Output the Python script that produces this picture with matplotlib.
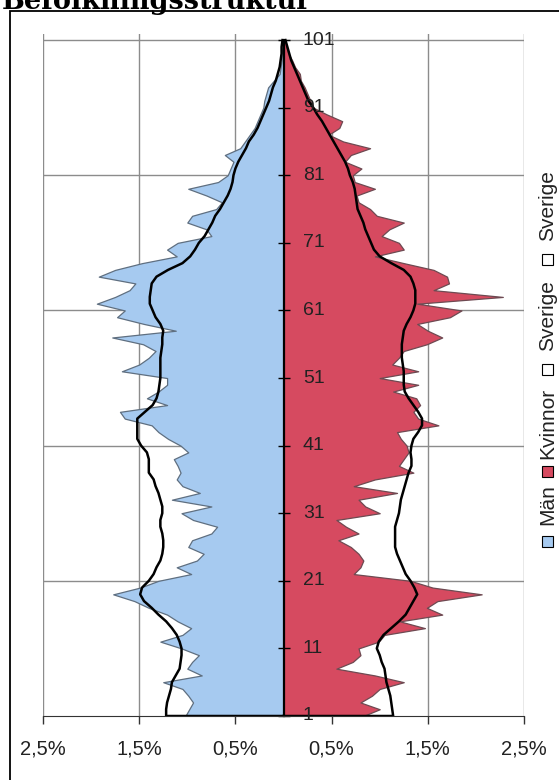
import numpy as np
import matplotlib
matplotlib.use("Agg")
import matplotlib.pyplot as plt
from matplotlib.patches import Rectangle

plt.rcParams['font.family'] = ['Liberation Sans', 'DejaVu Sans']

# Data: share of population (%) per age, ages 1..101
ages = list(range(1, 102))

man = [1.02, 0.98, 0.94, 0.99, 1.05, 1.25, 0.85, 1.00, 0.95, 0.88,
       1.06, 1.28, 1.05, 0.96, 1.10, 1.21, 1.40, 1.55, 1.77, 1.49,
       1.30, 0.96, 1.11, 0.90, 0.83, 0.99, 0.95, 0.75, 0.69, 0.94,
       1.06, 0.75, 1.16, 0.87, 1.05, 1.11, 1.07, 1.10, 1.14, 0.99,
       1.07, 1.20, 1.30, 1.37, 1.65, 1.70, 1.21, 1.42, 1.30, 1.21,
       1.21, 1.68, 1.50, 1.40, 1.33, 1.46, 1.78, 1.12, 1.45, 1.73,
       1.65, 1.94, 1.75, 1.60, 1.54, 1.92, 1.75, 1.47, 1.11, 1.21,
       1.10, 0.75, 0.80, 1.00, 0.95, 0.70, 0.64, 0.80, 0.99, 0.68,
       0.58, 0.55, 0.52, 0.61, 0.45, 0.40, 0.35, 0.30, 0.27, 0.24,
       0.21, 0.20, 0.18, 0.16, 0.10, 0.04, 0.03, 0.02, 0.02, 0.01,
       0.01]

kvinnor = [0.83, 1.00, 0.80, 0.92, 1.00, 1.25, 0.95, 0.55, 0.72, 0.80,
           0.78, 0.99, 1.05, 1.47, 1.21, 1.65, 1.49, 1.60, 2.06, 1.55,
           1.32, 0.73, 0.80, 0.83, 0.78, 0.70, 0.57, 0.78, 0.65, 0.55,
           1.00, 0.85, 0.78, 1.18, 0.73, 0.95, 1.35, 1.20, 1.25, 1.30,
           1.28, 1.22, 1.18, 1.61, 1.40, 1.35, 1.42, 1.38, 1.14, 1.40,
           1.00, 1.40, 1.13, 1.20, 1.25, 1.49, 1.65, 1.50, 1.39, 1.73,
           1.85, 1.39, 2.28, 1.56, 1.72, 1.70, 1.56, 1.25, 0.95, 1.25,
           1.20, 1.02, 1.10, 1.25, 0.97, 0.90, 0.78, 0.76, 0.95, 0.74,
           0.72, 0.81, 0.64, 0.70, 0.90, 0.62, 0.47, 0.58, 0.61, 0.45,
           0.31, 0.28, 0.25, 0.22, 0.18, 0.17, 0.12, 0.09, 0.05, 0.03,
           0.02]

sverige_man = [1.22, 1.22, 1.21, 1.19, 1.17, 1.16, 1.12, 1.08, 1.07, 1.06,
               1.06, 1.08, 1.11, 1.16, 1.22, 1.30, 1.37, 1.45, 1.49, 1.47,
               1.40, 1.35, 1.32, 1.28, 1.26, 1.25, 1.25, 1.26, 1.28, 1.28,
               1.26, 1.26, 1.28, 1.30, 1.33, 1.35, 1.40, 1.40, 1.40, 1.42,
               1.48, 1.52, 1.52, 1.52, 1.52, 1.44, 1.36, 1.32, 1.30, 1.29,
               1.28, 1.28, 1.28, 1.28, 1.27, 1.26, 1.26, 1.25, 1.28, 1.33,
               1.36, 1.39, 1.39, 1.38, 1.37, 1.32, 1.20, 1.05, 0.97, 0.92,
               0.88, 0.82, 0.78, 0.74, 0.71, 0.66, 0.62, 0.58, 0.55, 0.53,
               0.52, 0.50, 0.47, 0.43, 0.39, 0.36, 0.31, 0.27, 0.24, 0.21,
               0.18, 0.15, 0.13, 0.11, 0.08, 0.06, 0.04, 0.03, 0.02, 0.02,
               0.01]

sverige_kv = [1.14, 1.13, 1.12, 1.11, 1.09, 1.07, 1.06, 1.05, 1.02, 1.00,
              0.97, 0.99, 1.04, 1.12, 1.20, 1.27, 1.31, 1.35, 1.39, 1.36,
              1.32, 1.27, 1.24, 1.21, 1.18, 1.16, 1.16, 1.16, 1.16, 1.18,
              1.20, 1.21, 1.22, 1.24, 1.26, 1.28, 1.30, 1.33, 1.33, 1.32,
              1.33, 1.35, 1.40, 1.44, 1.44, 1.40, 1.35, 1.30, 1.26, 1.25,
              1.25, 1.25, 1.24, 1.23, 1.23, 1.23, 1.24, 1.25, 1.28, 1.32,
              1.35, 1.37, 1.37, 1.37, 1.35, 1.32, 1.25, 1.12, 1.00, 0.94,
              0.91, 0.88, 0.85, 0.83, 0.80, 0.77, 0.76, 0.75, 0.74, 0.72,
              0.69, 0.67, 0.64, 0.60, 0.56, 0.52, 0.48, 0.44, 0.40, 0.35,
              0.31, 0.26, 0.23, 0.20, 0.17, 0.14, 0.11, 0.08, 0.06, 0.04,
              0.02]

xticks = [-2.5, -1.5, -0.5, 0.5, 1.5, 2.5]
xtick_labels = ['2,5%', '1,5%', '0,5%', '0,5%', '1,5%', '2,5%']
yticks = list(range(1, 102, 10))
ygrid = [21, 41, 61, 81, 101]
legend_labels = ['Män', 'Kvinnor', 'Sverige', 'Sverige']

W, H = 559, 780
fig = plt.figure(figsize=(W / 100, H / 100), dpi=100)
ax = fig.add_axes([43 / W, 64 / H, 481 / W, 682 / H])

a = np.array(ages)
m = -np.array(man)
k = np.array(kvinnor)
sm = -np.array(sverige_man)
sk = np.array(sverige_kv)

# grid
for x in xticks:
    ax.axvline(x, color='#8c8c8c', lw=1, zorder=0)
ax.hlines(ygrid, -2.5, 2.5, color='#8c8c8c', lw=1, zorder=0)

# population areas
ax.fill_betweenx(a, m, 0, facecolor='#a6caf0', edgecolor='#5f6f80', lw=0.9, zorder=1)
ax.fill_betweenx(a, 0, k, facecolor='#d64a60', edgecolor='#6e4a52', lw=0.9, zorder=1)

# Sverige outlines (closed at the base)
ax.plot(np.r_[0, sm], np.r_[1, a], color='black', lw=1.8, zorder=1.5)
ax.plot(np.r_[0, sk], np.r_[1, a], color='black', lw=1.8, zorder=1.5)

ax.set_xlim(-2.5, 2.5)
ax.set_ylim(1, 101.9)

# axes styling
ax.spines['top'].set_visible(False)
ax.spines['left'].set_visible(False)
ax.spines['bottom'].set_color('#333333')
ax.spines['right'].set_position(('data', 0))
ax.spines['right'].set_bounds(1, 101)
ax.spines['right'].set_linewidth(1.6)
ax.yaxis.set_ticks_position('right')
ax.set_yticks(yticks)
ax.set_yticklabels([])
ax.tick_params(axis='y', direction='inout', length=9, width=1)
for v in yticks:
    ax.text(0.20, v, str(v), ha='left', va='center', fontsize=14,
            color='#222222', zorder=6)
ax.set_xticks(xticks)
ax.set_xticklabels(xtick_labels)
ax.tick_params(axis='x', direction='out', length=6, width=1, pad=11,
               labelsize=14.5, labelcolor='#222222', color='#333333')

# legend (rotated, drawn manually on the right)
legend_colors = ['#a6caf0', '#d64a60', 'white', 'white']
sq_y = [541, 471, 369, 259]
txt_y = [505, 423, 316, 206]
for lab, col, sy, ty in zip(legend_labels, legend_colors, sq_y, txt_y):
    fig.add_artist(Rectangle(((547.5 - 5.5) / W, 1 - (sy + 5.5) / H), 11 / W, 11 / H,
                             transform=fig.transFigure, facecolor=col,
                             edgecolor='black', lw=0.8))
    fig.text(548 / W, 1 - ty / H, lab, rotation=90, ha='center', va='center',
             fontsize=15, color='#222222')

# outer frame and clipped title
fig.add_artist(Rectangle((10 / W, -0.05), 1.1, 1 - 11 / H + 0.05,
                         transform=fig.transFigure, fill=False,
                         edgecolor='black', lw=1.3))
fig.text(2 / W, 1 - 9 / H, 'Befolkningsstruktur', ha='left', va='baseline',
         fontsize=19.5, fontweight='bold', family='DejaVu Serif', color='black')

fig.savefig('out.png', dpi=100)
